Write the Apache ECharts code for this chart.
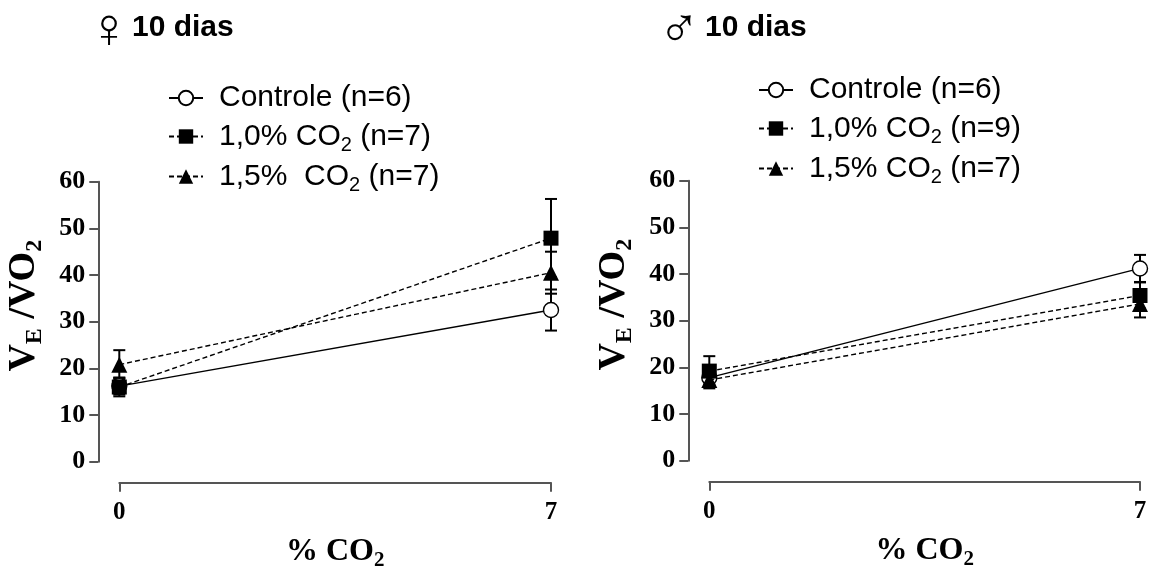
<!DOCTYPE html>
<html>
<head>
<meta charset="utf-8">
<script src="https://cdn.jsdelivr.net/npm/echarts@6/dist/echarts.min.js"></script>
<style>
html, body { margin: 0; padding: 0; background: #fff; }
#chart { width: 1149px; height: 568px; }
</style>
</head>
<body>
<div id="chart"></div>
<script>
// % CO2 levels on the x axis
var doses = [0, 7];
var yTicks = [0, 10, 20, 30, 40, 50, 60];

// legend names
var femaleNames = ['Controle (n=6)', '1,0% CO2 (n=7)', '1,5%  CO2 (n=7)'];
var maleNames = ['Controle (n=6)', '1,0% CO2 (n=9)', '1,5% CO2 (n=7)'];

// female, 10 dias (mean and SEM at 0 and 7 % CO2)
var femControle = [16.2, 32.5];
var femControleErr = [1.8, 4.4];
var femCo2a = [16.0, 47.9];
var femCo2aErr = [2.0, 8.4];
var femCo2b = [20.8, 40.5];
var femCo2bErr = [3.1, 4.5];

// male, 10 dias
var maleControle = [17.8, 41.2];
var maleControleErr = [1.5, 2.9];
var maleCo2a = [19.2, 35.4];
var maleCo2aErr = [3.2, 2.8];
var maleCo2b = [17.3, 33.6];
var maleCo2bErr = [1.8, 2.9];

var chart = echarts.init(document.getElementById('chart'));

var serif = 'Liberation Serif';
var sans = 'Liberation Sans';

function pairs(vals) {
    return doses.map(function (d, i) { return [d, vals[i]]; });
}
function errPairs(vals, errs) {
    return doses.map(function (d, i) { return [d, vals[i], errs[i]]; });
}

// kind: 0 = controle (open circle, solid), 1 = square dashed, 2 = triangle dashed
function lineSeries(name, grid, vals, kind) {
    var sym = ['circle', 'rect', 'triangle'][kind];
    return {
        type: 'line',
        name: name,
        xAxisIndex: grid,
        yAxisIndex: grid,
        data: pairs(vals),
        symbol: sym,
        symbolSize: kind == 2 ? 16 : 15,
        showAllSymbol: true,
        clip: false,
        z: 3 + kind,
        lineStyle: { color: '#000', width: 1.4, type: kind == 0 ? 'solid' : [5, 3] },
        itemStyle: {
            color: kind == 0 ? '#fff' : '#000',
            borderColor: '#000',
            borderWidth: kind == 0 ? 1.4 : 0
        },
        emphasis: { disabled: true },
        animation: false
    };
}

function renderErr(params, api) {
    var x = api.value(0), m = api.value(1), e = api.value(2);
    var hi = api.coord([x, m + e]);
    var lo = api.coord([x, m - e]);
    var w = 6;
    var st = { stroke: '#000', lineWidth: 2 };
    return {
        type: 'group',
        children: [
            { type: 'line', shape: { x1: hi[0], y1: hi[1], x2: lo[0], y2: lo[1] }, style: st },
            { type: 'line', shape: { x1: hi[0] - w, y1: hi[1], x2: hi[0] + w, y2: hi[1] }, style: st },
            { type: 'line', shape: { x1: lo[0] - w, y1: lo[1], x2: lo[0] + w, y2: lo[1] }, style: st }
        ]
    };
}

function errSeries(grid, vals, errs) {
    return {
        type: 'custom',
        xAxisIndex: grid,
        yAxisIndex: grid,
        data: errPairs(vals, errs),
        renderItem: renderErr,
        z: 2,
        silent: true,
        animation: false
    };
}

var subRich = {
    sub: { fontFamily: sans, fontSize: 20, color: '#000', lineHeight: 17, padding: [18, 0, 0, 0] }
};

function legendFmt(name) {
    return name.replace('CO2', 'CO{sub|2}');
}

function makeLegend(names, left, top) {
    return {
        data: names,
        orient: 'vertical',
        left: left,
        top: top,
        padding: 0,
        itemWidth: 34,
        itemHeight: 18,
        itemGap: 2,
        selectedMode: false,
        formatter: legendFmt,
        textStyle: {
            fontFamily: sans,
            fontSize: 30,
            color: '#000',
            lineHeight: 35,
            padding: [0, 0, 0, 11],
            rich: subRich
        }
    };
}

var axisLineStyle = { color: '#555', width: 2 };

function makeX(grid) {
    return {
        type: 'value',
        gridIndex: grid,
        min: 0,
        max: 7,
        interval: 7,
        offset: 21,
        name: '% CO{sub|2}',
        nameLocation: 'middle',
        nameGap: 53,
        nameTextStyle: {
            fontFamily: serif, fontWeight: 'bold', fontSize: 32, color: '#000',
            rich: { sub: { fontFamily: serif, fontWeight: 'bold', fontSize: 21, color: '#000', lineHeight: 18, padding: [18, 0, 0, 0] } }
        },
        axisLine: { show: true, onZero: false, lineStyle: axisLineStyle },
        axisTick: { show: true, length: 9, lineStyle: axisLineStyle },
        axisLabel: { fontFamily: serif, fontWeight: 'bold', fontSize: 25, color: '#000', margin: 17 },
        splitLine: { show: false }
    };
}

function makeY(grid) {
    return {
        type: 'value',
        gridIndex: grid,
        min: yTicks[0],
        max: yTicks[yTicks.length - 1],
        interval: 10,
        offset: 21,
        name: 'V{sub|E} /VO{sub|2}',
        nameLocation: 'middle',
        nameRotate: 90,
        nameGap: 55,
        nameTextStyle: {
            fontFamily: serif, fontWeight: 'bold', fontSize: 38, color: '#000',
            padding: [0, 0, 0, 32],
            rich: { sub: { fontFamily: serif, fontWeight: 'bold', fontSize: 24, color: '#000', lineHeight: 18, padding: [21, 0, 0, 0] } }
        },
        axisLine: { show: true, onZero: false, lineStyle: axisLineStyle },
        axisTick: { show: true, length: 9, lineStyle: axisLineStyle },
        axisLabel: { fontFamily: serif, fontWeight: 'bold', fontSize: 26, color: '#000', margin: 13 },
        splitLine: { show: false }
    };
}

function makeTitle(text, left) {
    return {
        text: text,
        left: left,
        top: 13,
        padding: 0,
        textStyle: { fontFamily: sans, fontWeight: 'bold', fontSize: 30, color: '#000' }
    };
}

function makeSym(sym, left, top) {
    return {
        text: sym,
        left: left,
        top: top,
        padding: 0,
        textStyle: { fontFamily: 'DejaVu Sans', fontWeight: 200, fontSize: 56, color: '#000' }
    };
}

var option = {
    backgroundColor: '#fff',
    animation: false,
    title: [
        makeSym('\u2640', 88, 4),
        makeTitle('10 dias', 132),
        makeSym('\u2642', 658, 4),
        makeTitle('10 dias', 705)
    ],
    legend: [makeLegend(femaleNames, 168, 80.5), makeLegend(maleNames, 758, 72.5)],
    grid: [
        { left: 119.3, right: 598, top: 181.7, bottom: 106.3, outerBoundsMode: 'none' },
        { left: 709.3, right: 9, top: 180.7, bottom: 107.3, outerBoundsMode: 'none' }
    ],
    xAxis: [makeX(0), makeX(1)],
    yAxis: [makeY(0), makeY(1)],
    series: [
        errSeries(0, femControle, femControleErr),
        errSeries(0, femCo2a, femCo2aErr),
        errSeries(0, femCo2b, femCo2bErr),
        lineSeries(femaleNames[0], 0, femControle, 0),
        lineSeries(femaleNames[1], 0, femCo2a, 1),
        lineSeries(femaleNames[2], 0, femCo2b, 2),
        errSeries(1, maleControle, maleControleErr),
        errSeries(1, maleCo2a, maleCo2aErr),
        errSeries(1, maleCo2b, maleCo2bErr),
        lineSeries(maleNames[0], 1, maleControle, 0),
        lineSeries(maleNames[1], 1, maleCo2a, 1),
        lineSeries(maleNames[2], 1, maleCo2b, 2)
    ]
};

chart.setOption(option);
</script>
</body>
</html>
